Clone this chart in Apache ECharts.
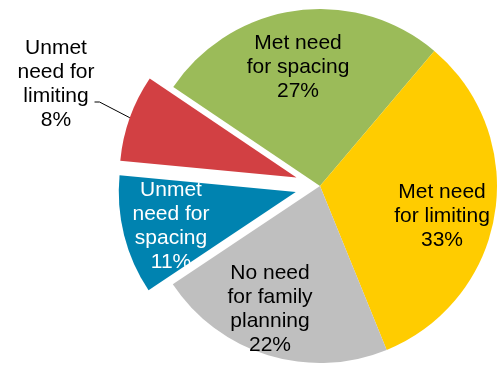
<!DOCTYPE html>
<html><head><meta charset="utf-8">
<script src="https://cdn.jsdelivr.net/npm/echarts@6/dist/echarts.min.js"></script>
<style>html,body{margin:0;padding:0;background:#fff}#c{width:497px;height:365px}</style>
</head><body><div id="c"></div>
<script>
var categories = ['Met need\nfor spacing', 'Met need\nfor limiting', 'No need\nfor family\nplanning', 'Unmet\nneed for\nspacing', 'Unmet\nneed for\nlimiting'];
var values = [27, 33, 22, 11, 8];
var exploded = [false, false, false, true, true];

var colors = ['#9BBB59', '#FFCC00', '#BFBFBF', '#0083B0', '#D24043'];
var labelColors = ['#000', '#000', '#000', '#fff', '#000'];
var labelPos = [[298, 67], [442, 216], [270, 309], [171, 226], [56, 102]];
var labelSpacer = [false, false, false, false, true];

var CX = 320, CY = 186, R = 177, START = 146, OFFSET = 25;
var total = values.reduce(function (a, b) { return a + b; }, 0);

function midAngle(idx) {
  var cum = 0;
  for (var i = 0; i < idx; i++) cum += values[i];
  return (START - (cum + values[idx] / 2) / total * 360) * Math.PI / 180;
}

// group 0 = non-exploded slices; other groups = each exploded slice alone
var groups = [values.map(function (v, i) { return !exploded[i]; })];
values.forEach(function (v, i) {
  if (exploded[i]) groups.push(values.map(function (w, j) { return j === i; }));
});

var series = groups.map(function (mask, g) {
  var cx = CX, cy = CY;
  if (g > 0) {
    var idx = mask.indexOf(true);
    var a = midAngle(idx);
    cx = CX + Math.cos(a) * OFFSET;
    cy = CY - Math.sin(a) * OFFSET;
  }
  return {
    type: 'pie',
    center: [cx, cy],
    radius: [0, R],
    startAngle: START,
    clockwise: true,
    avoidLabelOverlap: false,
    silent: true,
    emphasis: {disabled: true},
    label: {
      fontFamily: 'Liberation Sans, Arial, sans-serif',
      fontSize: 21,
      lineHeight: 24,
      align: 'center',
      rich: {s: {fontSize: 2, lineHeight: 36}},
      formatter: function (p) {
        var t = p.name + '\n' + p.value + '%';
        if (labelSpacer[p.dataIndex]) t += '\n{s| }';
        return t;
      }
    },
    labelLayout: function (p) {
      var pos = labelPos[p.dataIndex];
      return {x: pos[0], y: pos[1], align: 'center', verticalAlign: 'middle'};
    },
    data: values.map(function (v, i) {
      var on = mask[i];
      var outside = i === 4;
      return {
        name: categories[i],
        value: v,
        itemStyle: {color: on ? colors[i] : 'rgba(0,0,0,0)'},
        label: {show: on, position: outside ? 'outside' : 'inside', color: labelColors[i]},
        labelLine: {show: on && outside, length: 10, length2: 5, lineStyle: {color: '#000', width: 1}}
      };
    })
  };
});

var chart = echarts.init(document.getElementById('c'), null, {renderer: 'canvas'});
chart.setOption({animation: false, series: series});
</script>
</body></html>
